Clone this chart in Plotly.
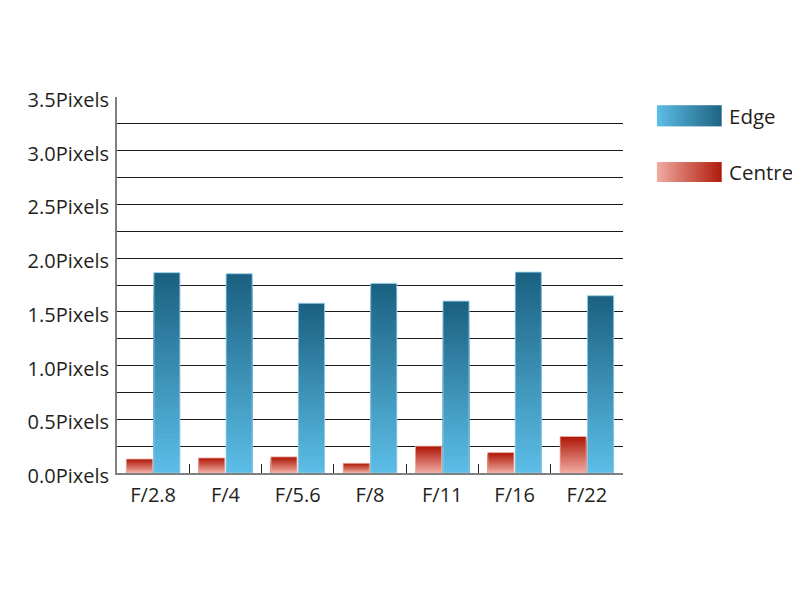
import plotly.graph_objects as go

categories = ["F/2.8", "F/4", "F/5.6", "F/8", "F/11", "F/16", "F/22"]
centre_values = [0.13, 0.14, 0.15, 0.09, 0.25, 0.19, 0.34]
edge_values = [1.865, 1.855, 1.58, 1.765, 1.60, 1.87, 1.65]
y_tick_values = [0, 0.5, 1.0, 1.5, 2.0, 2.5, 3.0, 3.5]
y_tick_labels = ["0.0Pixels", "0.5Pixels", "1.0Pixels", "1.5Pixels",
                 "2.0Pixels", "2.5Pixels", "3.0Pixels", "3.5Pixels"]
series_names = ["Edge", "Centre"]

EDGE_LIGHT = (93, 190, 231)
EDGE_DARK = (26, 96, 128)
CENTRE_LIGHT = (241, 172, 163)
CENTRE_DARK = (174, 22, 6)
FONT = "Open Sans"
N = 40


def mix(a, b, t):
    return "rgb(%d,%d,%d)" % tuple(round(a[i] + (b[i] - a[i]) * t) for i in range(3))


fig = go.Figure()


def add_gradient_series(values, light, dark, group, outline):
    for k in range(N):
        frac = (N - k) / N
        t = (N - k - 0.5) / N
        fig.add_trace(go.Bar(
            x=categories,
            y=[v * frac for v in values],
            offsetgroup=group,
            marker=dict(color=mix(light, dark, t), line=dict(width=0)),
            showlegend=False,
            hoverinfo="skip",
        ))
    fig.add_trace(go.Bar(
        x=categories,
        y=values,
        offsetgroup=group,
        marker=dict(color="rgba(0,0,0,0)", line=dict(width=1, color=outline)),
        showlegend=False,
    ))


add_gradient_series(centre_values, CENTRE_LIGHT, CENTRE_DARK, "centre", "rgba(240,180,170,0.8)")
add_gradient_series(edge_values, EDGE_LIGHT, EDGE_DARK, "edge", "rgba(150,205,230,0.9)")

# manual legend with horizontal gradient swatches
shapes = []
legend_items = [
    (series_names[0], EDGE_LIGHT, EDGE_DARK, 0.978, 0.922),
    (series_names[1], CENTRE_LIGHT, CENTRE_DARK, 0.827, 0.774),
]
x0, x1 = 1.067, 1.194
M = 32
annotations = []
for name, light, dark, ytop, ybot in legend_items:
    for j in range(M):
        shapes.append(dict(
            type="rect", xref="paper", yref="paper",
            x0=x0 + (x1 - x0) * j / M, x1=x0 + (x1 - x0) * (j + 1) / M + 0.001,
            y0=ybot, y1=ytop,
            fillcolor=mix(light, dark, (j + 0.5) / M), line=dict(width=0), layer="above",
        ))
    annotations.append(dict(
        text=name, xref="paper", yref="paper", x=1.206, y=(ytop + ybot) / 2,
        xanchor="left", yanchor="middle", showarrow=False,
        font=dict(family=FONT, size=20.5, color="#231f20"),
    ))

fig.update_layout(
    width=800, height=600,
    margin=dict(l=109, r=185, t=89, b=135),
    paper_bgcolor="white", plot_bgcolor="white",
    barmode="group", bargap=0.24, bargroupgap=0.05,
    shapes=shapes, annotations=annotations,
    font=dict(family=FONT, size=20, color="#231f20"),
    showlegend=False,
)
fig.update_xaxes(
    type="category",
    showline=True, linecolor="#808080", linewidth=2,
    ticks="inside", tickson="boundaries", ticklen=9, tickwidth=1, tickcolor="#222",
    showgrid=False,
    tickfont=dict(family=FONT, size=20, color="#231f20"),
    ticklabelstandoff=3,
)
fig.update_yaxes(
    range=[0, 3.5],
    tickvals=y_tick_values, ticktext=y_tick_labels,
    showline=True, linecolor="#808080", linewidth=2,
    showgrid=True, gridcolor="#1a1a1a", gridwidth=1,
    minor=dict(dtick=0.25, showgrid=True, gridcolor="#1a1a1a", gridwidth=1),
    zeroline=False, ticks="",
    tickfont=dict(family=FONT, size=20, color="#231f20"),
    ticklabelstandoff=2,
    ticklabelshift=3,
)

fig.write_html("out.html")
